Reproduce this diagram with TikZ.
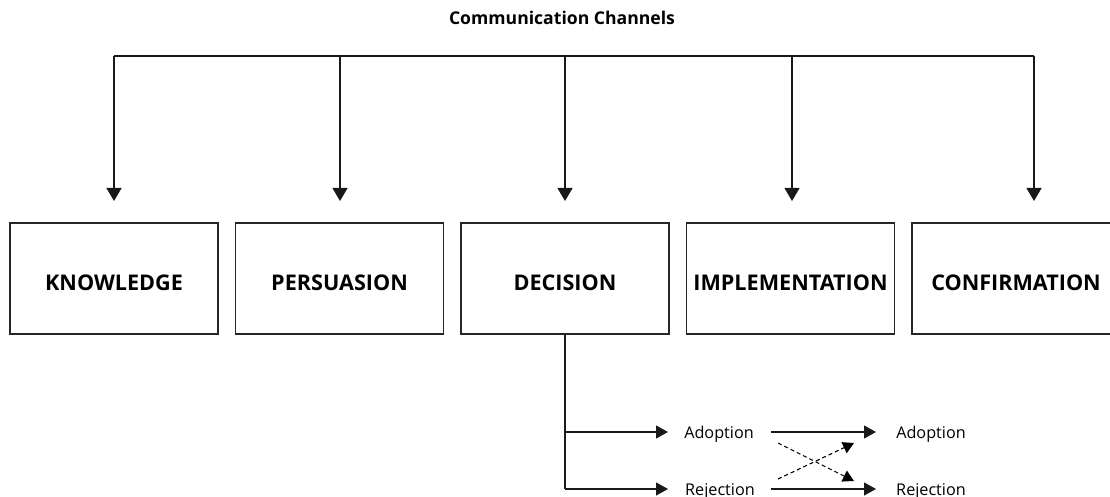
\documentclass[tikz,border=0pt]{standalone}
\usepackage{fontspec}
\setmainfont{Open Sans}
\usetikzlibrary{arrows.meta}
\tikzset{
  stage/.style={draw=black!85, line width=1.3pt, minimum width=208pt, minimum height=111pt, inner sep=0pt, text height=24pt, text depth=0pt, font=\fontsize{21.6}{25}\selectfont\bfseries},
  lbl/.style={inner sep=0pt, anchor=base, font=\fontsize{16.2}{19}\selectfont},
  conn/.style={line width=1.2pt, black!90},
  bigtip/.style={conn, -{Triangle[width=15pt,length=13pt]}},
  smalltip/.style={conn, -{Triangle[width=13pt,length=12pt]}},
  dashtip/.style={line width=1.1pt, dash pattern=on 4pt off 3pt, -{Triangle[width=12pt,length=11pt]}}
}
\begin{document}
\begin{tikzpicture}[x=1pt,y=1pt]
\useasboundingbox (0,0) rectangle (1110,-497);
\node[anchor=base, inner sep=0pt, font=\fontsize{17.6}{20}\selectfont\bfseries] (title) at (562,-25) {Communication Channels};
\node[stage] (k) at (114,-278.5) {KNOWLEDGE};
\node[stage] (p) at (339.5,-278.5) {PERSUASION};
\node[stage] (d) at (565,-278.5) {DECISION};
\node[stage] (i) at (790.5,-278.5) {IMPLEMENTATION};
\node[stage] (c) at (1016,-278.5) {CONFIRMATION};
% top bus
\coordinate (t1) at (114,-56);
\coordinate (t2) at (340,-56);
\coordinate (t3) at (565,-56);
\coordinate (t4) at (792,-56);
\coordinate (t5) at (1034,-56);
\coordinate (e1) at (114,-201);
\coordinate (e2) at (340,-201);
\coordinate (e3) at (565,-201);
\coordinate (e4) at (792,-201);
\coordinate (e5) at (1034,-201);
\draw[conn] (t1) -- (t5);
\foreach \n in {1,...,5} \draw[bigtip] (t\n) -- (e\n);
% decision branches
\node[lbl] (a1) at (719,-438) {Adoption};
\node[lbl] (r1) at (720,-495) {Rejection};
\node[lbl] (a2) at (931,-438) {Adoption};
\node[lbl] (r2) at (931,-495) {Rejection};
\coordinate (ba) at (565,-432);
\coordinate (br) at (565,-489);
\draw[conn] (d.south) -- (br);
\draw[smalltip] (ba) -- (668,-432);
\draw[smalltip] (br) -- (668,-489);
\draw[smalltip] (771,-432) -- (876,-432);
\draw[smalltip] (771,-489) -- (876,-489);
\draw[dashtip] (778,-443) -- (854,-481);
\draw[dashtip] (778,-479) -- (854,-443);
\end{tikzpicture}
\end{document}
